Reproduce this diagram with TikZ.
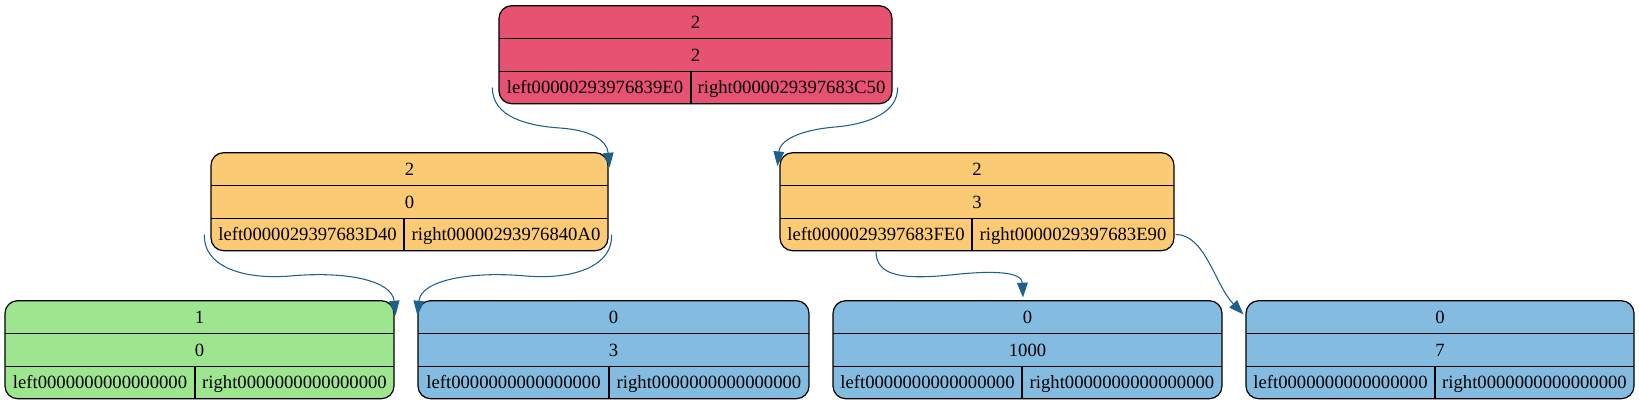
\documentclass[tikz,border=0pt]{standalone}
\usepackage{fontspec}
\setmainfont{Liberation Serif}
\usetikzlibrary{arrows.meta}
\definecolor{rootred}{RGB}{231,81,114}
\definecolor{nodeorange}{RGB}{250,202,116}
\definecolor{leafgreen}{RGB}{157,230,143}
\definecolor{leafblue}{RGB}{131,188,224}
\definecolor{linkblue}{RGB}{31,96,139}
\tikzset{
  record/.style={draw=black, line width=0.9pt, rounded corners=9.5pt, inner sep=0pt},
  cell/.style={inner sep=0pt, text height=9.5pt, text depth=0pt, font=\fontsize{14pt}{16pt}\selectfont},
  link/.style={draw=linkblue, line width=0.8pt, -{Triangle[length=11pt,width=8pt]}},
}
\begin{document}
\begin{tikzpicture}[x=0.75pt,y=-0.75pt]
\useasboundingbox (0,0) rectangle (1639,405);
% records: name/left/right/divider/top/fill/row1/row2/left cell/right cell
\foreach \n/\xa/\xb/\xd/\ty/\col/\ta/\tb/\lt/\rt in {
  root/499/892/691/5.7/rootred/2/2/left00000293976839E0/right0000029397683C50,
  lc/211/608/404/152.7/nodeorange/2/0/left0000029397683D40/right00000293976840A0,
  rc/780/1174/972/152.7/nodeorange/2/3/left0000029397683FE0/right0000029397683E90,
  g/5/394/195/300.7/leafgreen/1/0/left0000000000000000/right0000000000000000,
  b1/418/809/609/300.7/leafblue/0/3/left0000000000000000/right0000000000000000,
  b2/833/1222/1022/300.7/leafblue/0/1000/left0000000000000000/right0000000000000000,
  b3/1246/1634/1435/300.7/leafblue/0/7/left0000000000000000/right0000000000000000}{
  \node[record, fill=\col, minimum width={(\xb-\xa)*0.75pt}, minimum height=73.5pt] (\n) at ({(\xa+\xb)/2},\ty+49) {};
  \draw[line width=0.9pt] (\xa,\ty+33) -- (\xb,\ty+33) (\xa,\ty+65.6) -- (\xb,\ty+65.6) (\xd,\ty+65.6) -- (\xd,\ty+98);
  \node[cell] (\n-a) at ({(\xa+\xb)/2},\ty+16.5) {\ta};
  \node[cell] (\n-b) at ({(\xa+\xb)/2},\ty+49) {\tb};
  \node[cell] (\n-l) at ({(\xa+\xd)/2},\ty+81.8) {\lt};
  \node[cell] (\n-r) at ({(\xd+\xb)/2},\ty+81.8) {\rt};
}
% links
\draw[link] ([xshift=-4.5pt]root.west |- root-l) .. controls (492,118) and (530,126) .. (560,128) .. controls (590,130) and (607,140) .. ([shift={(0.75pt,-11.5pt)}]lc.north east);
\draw[link] ([xshift=3.75pt]root.east |- root-r) .. controls (898,112) and (870,124) .. (835,127) .. controls (800,130) and (780,140) .. ([shift={(-1.5pt,-10.5pt)}]rc.north west);
\draw[link] ([xshift=-4.5pt]lc.west |- lc-l) .. controls (203,265) and (240,280) .. (290,276) .. controls (345,271) and (392,280) .. ([shift={(0.75pt,-11.5pt)}]g.north east);
\draw[link] ([xshift=2.25pt]lc.east |- lc-r) .. controls (613,265) and (576,280) .. (526,276) .. controls (471,271) and (421,280) .. ([yshift=-11.5pt]b1.north west);
\draw[link] (rc-l |- rc.south) .. controls (876,275) and (900,280) .. (950,275) .. controls (995,270) and (1022,272) .. ([shift={(-3.4pt,2pt)}]b2.north);
\draw[link] ([xshift=0.75pt]rc.east |- rc-r) .. controls (1205,234) and (1215,285) .. ([shift={(-1.5pt,-10.7pt)}]b3.north west);
\end{tikzpicture}
\end{document}
